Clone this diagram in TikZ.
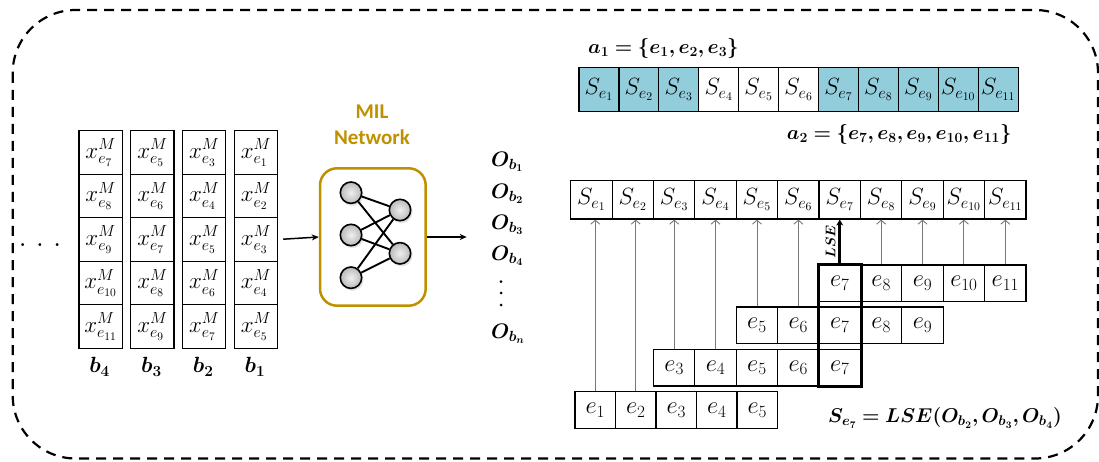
\RequirePackage{fix-cm}
\documentclass[tikz,border=0pt]{standalone}
\usepackage{amsmath}
\usepackage{bm}
\usepackage{fontspec}
\newfontfamily\carlito{Carlito}
\usetikzlibrary{arrows.meta,calc,shadows}
\definecolor{gold}{RGB}{191,144,0}
\definecolor{lblue}{RGB}{146,205,220}
\definecolor{garrow}{RGB}{120,120,120}
\begin{document}
\begin{tikzpicture}[x=1pt,y=-1pt,
  xcell/.style={draw, line width=1.2pt, inner sep=0pt, minimum width=43.3pt, minimum height=43.5pt, font=\fontsize{23}{26}\selectfont},
  scell/.style={draw, line width=1.2pt, inner sep=0pt, minimum width=39.93pt, minimum height=44pt, font=\fontsize{23.5}{26}\selectfont},
  s2cell/.style={draw, line width=1.2pt, inner sep=0pt, minimum width=41.39pt, minimum height=38.3pt, font=\fontsize{23.5}{26}\selectfont},
  ecell/.style={draw, line width=1.2pt, inner sep=0pt, minimum width=41.39pt, minimum height=36.7pt, font=\fontsize{24.5}{26}\selectfont},
  dcell/.style={ecell, minimum width=40.5pt},
  blab/.style={inner sep=0pt, font=\fontsize{22}{24}\selectfont},
  olab/.style={inner sep=0pt, anchor=west, font=\fontsize{21}{24}\selectfont},
  mlab/.style={inner sep=0pt, font=\fontsize{20}{24}\selectfont},
  milbox/.style={draw=gold, line width=2.5pt, rounded corners=17pt, minimum width=105.7pt, minimum height=137.4pt},
  miltitle/.style={text=gold, align=center, font=\carlito\bfseries\fontsize{21}{25.6}\selectfont},
  neuron/.style={circle, draw, line width=1.6pt, minimum size=21.4pt, inner sep=0pt, inner color=gray!12, outer color=gray!55, circular drop shadow={shadow xshift=1pt, shadow yshift=-1.5pt, opacity=0.25}},
  conn/.style={line width=1.9pt},
  arr/.style={line width=1.5pt, -{Stealth[length=7pt,width=6pt]}},
  garr/.style={draw=garrow, line width=0.9pt, -{Straight Barb[length=4pt,width=9pt]}},
  barr/.style={line width=2.6pt, -{Stealth[length=6pt,width=7pt]}},
  border/.style={line width=2.2pt, dash pattern=on 10pt off 7pt, rounded corners=63pt},
  dot/.style={circle, fill, inner sep=0pt, minimum size=3pt}
]
\useasboundingbox (0,0) rectangle (1099,462);
\clip (0,0) rectangle (1099,462);
\draw[border] (12.7,10) rectangle (1098,458.5);

% left bag columns
\foreach \j in {1,...,4} {
  \pgfmathsetmacro\cx{256-(\j-1)*51.8}
  \foreach \r in {1,...,5} {
    \pgfmathtruncatemacro\k{2*\j-2+\r}
    \node[xcell] (x\j-\r) at (\cx, {152.5+(\r-1)*43.5}) {$x^{M}_{e_{\k}}$};
  }
  \node[blab] (b\j) at ({\cx-1},367) {$\bm{b_{\j}}$};
}
\node[inner sep=0pt, font=\bfseries\fontsize{20}{20}\selectfont] (dots) at (40,245.5) {.\hspace{11pt}.\hspace{11pt}.};

% MIL network
\node[milbox] (mil) at (372.85,237) {};
\node[miltitle] (miltxt) at (372,124.5) {MIL\\Network};
\node[neuron] (n1) at (351,192.7) {};
\node[neuron] (n2) at (351,235) {};
\node[neuron] (n3) at (351,277.7) {};
\node[neuron] (n4) at (400,210) {};
\node[neuron] (n5) at (400,253.3) {};
\foreach \a in {n1,n2,n3} \foreach \b in {n4,n5} \draw[conn] (\a) -- (\b);
\draw[arr, shorten <=5pt] (x1-3.east) -- (mil.west);
\coordinate (outend) at (466.7,237);
\draw[arr] (mil.east) -- (outend);

% outputs
\node[olab] (o1) at (491,162) {$\bm{O_{b_1}}$};
\node[olab] (o2) at (491,193.5) {$\bm{O_{b_2}}$};
\node[olab] (o3) at (491,224.5) {$\bm{O_{b_3}}$};
\node[olab] (o4) at (491,256) {$\bm{O_{b_4}}$};
\node[dot] (v1) at (501,281.7) {};
\node[dot] (v2) at (501,293) {};
\node[dot] (v3) at (501,305) {};
\node[olab] (on) at (491,333.5) {$\bm{O_{b_n}}$};

% top aggregated row
\foreach \i/\c in {1/lblue,2/lblue,3/lblue,4/white,5/white,6/white,7/lblue,8/lblue,9/lblue,10/lblue,11/lblue} {
  \node[scell, fill=\c] (t\i) at ({598.97+(\i-1)*39.93}, 89.7) {$S_{e_{\i}}$};
}
\node[mlab, anchor=west] (a1) at (588,49) {$\bm{a_1 = \{e_1, e_2, e_3\}}$};
\node[mlab, anchor=east] (a2) at (1011.7,135) {$\bm{a_2 = \{e_7, e_8, e_9, e_{10}, e_{11}\}}$};

% score row
\foreach \i in {1,...,11} {
  \node[s2cell] (s\i) at ({591.4+(\i-1)*41.39}, 199.85) {$S_{e_{\i}}$};
}
% instance rows
\foreach \i in {7,...,11} \node[ecell] (A\i) at ({591.4+(\i-1)*41.39}, 283.35) {$e_{\i}$};
\foreach \i in {5,...,9} \node[ecell] (B\i) at ({591.4+(\i-1)*41.39}, 325.3) {$e_{\i}$};
\foreach \i in {3,...,7} \node[ecell] (C\i) at ({591.4+(\i-1)*41.39}, 367.7) {$e_{\i}$};
\foreach \i in {1,...,5} \node[dcell] (D\i) at ({595.25+(\i-1)*40.5}, 410) {$e_{\i}$};

\draw[garr] (D1.north) -- (D1.north |- s1.south);
\draw[garr] (D2.north) -- (D2.north |- s2.south);
\draw[garr] (C3.north) -- (s3.south);
\draw[garr] (C4.north) -- (s4.south);
\draw[garr] (B5.north) -- (s5.south);
\draw[garr] (B6.north) -- (s6.south);
\foreach \i in {8,...,11} \draw[garr] (A\i.north) -- (s\i.south);

\draw[line width=3pt] (A7.north west) rectangle (C7.south east);
\draw[barr] (A7.north) -- (s7.south) node[midway, rotate=90, anchor=south, inner sep=3pt, font=\fontsize{14}{14}\selectfont] (lse) {$\bm{LSE}$};

\node[mlab, anchor=west] (eq) at (828,418) {$\bm{S_{e_7} = LSE(O_{b_2}, O_{b_3}, O_{b_4})}$};
\end{tikzpicture}
\end{document}
